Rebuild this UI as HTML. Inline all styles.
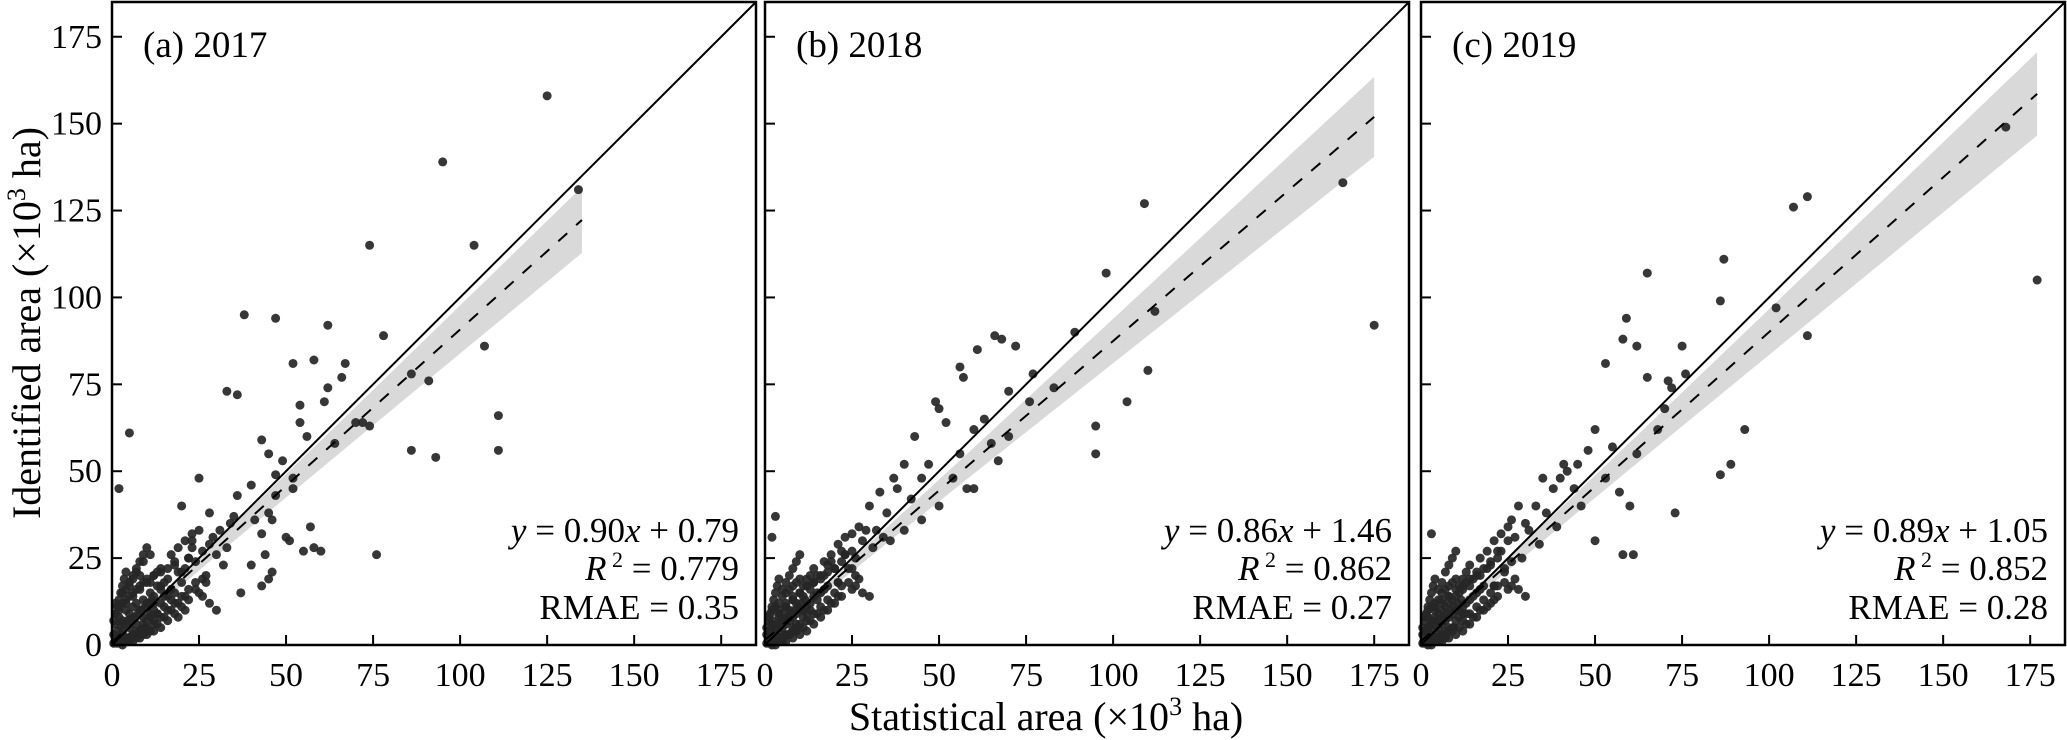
<!DOCTYPE html>
<html><head><meta charset="utf-8"><style>
html,body{margin:0;padding:0;background:#fff;}
svg{display:block;font-family:"Liberation Serif","DejaVu Serif",serif;}
</style></head><body>
<svg id="chart" width="2067" height="740" viewBox="0 0 2067 740" xmlns="http://www.w3.org/2000/svg">
<text x="0" y="0" transform="translate(40,323) rotate(-90)" text-anchor="middle" font-size="40">Identified area (×10<tspan font-size="26" dy="-15">3</tspan><tspan dy="15"> ha)</tspan></text>
<text x="1046" y="730" text-anchor="middle" font-size="40">Statistical area (×10<tspan font-size="26" dy="-15">3</tspan><tspan dy="15"> ha)</tspan></text>
</svg>
<script>
const ticks = [0,25,50,75,100,125,150,175];
const panelLabels = ["(a) 2017","(b) 2018","(c) 2019"];
const slopes = [0.90,0.86,0.89];
const intercepts = [0.79,1.46,1.05];
const r2Values = ["0.779","0.862","0.852"];
const rmaeValues = ["0.35","0.27","0.28"];
const fitEnd = [135,175,177];
const bandEndHalf = [9.5,11.5,12];

const ax_a = [125,95,74,104,134,38,47,62,52,78,86,91,107,111,111,93,86,76,5,2,33,36,61,60,64,70,72,74,62,66,67,58,54,56,54,52,52,45,43,47,47,49,40,36,46,45,41,35,25,20,28,43,50,57,51,58,44,40,46,55,45,43,37,28,30,33,32,26,24,21,20,17,15,12,31,34,29,23,27,22,19,26,18,14];
const ay_a = [158,139,115,115,131,95,94,92,81,89,78,76,86,66,56,54,56,26,61,45,73,72,70,27,58,64,64,63,74,77,81,82,64,60,69,48,45,55,59,49,43,53,46,43,36,38,36,37,48,40,38,32,31,34,30,28,26,23,21,27,19,17,15,29,26,28,23,27,24,22,18,16,14,12,33,35,31,30,20,25,21,19,24,17];
const ax_b = [166,175,109,98,112,89,110,104,95,95,83,77,76,66,68,72,70,61,56,57,52,50,49,43,47,56,60,63,65,67,60,58,54,45,40,37,38,33,30,32,36,40,28,25,25,22,20,17,15,3,2,45,50,70,35,42,27,31,23,19,26,29,34,21,18];
const ay_b = [133,92,127,107,96,90,79,70,63,55,74,78,70,89,88,86,73,85,80,77,64,68,70,60,52,55,62,65,58,53,45,45,48,48,52,48,45,44,40,33,30,33,30,27,22,27,22,20,15,37,31,36,40,60,38,42,34,28,26,24,20,33,31,18,23];
const ax_c = [168,177,107,111,111,102,87,86,93,89,86,73,65,59,53,58,62,65,71,75,72,76,70,68,62,55,50,48,45,53,57,60,46,50,58,61,40,38,35,33,30,28,26,25,22,20,17,3,41,42,36,31,27,24,29,34,21,19,44,39];
const ay_c = [149,105,126,129,89,97,111,99,62,52,49,38,107,94,81,88,86,77,76,86,74,78,68,62,55,57,62,56,52,48,44,40,40,30,26,26,48,45,48,40,35,40,36,30,27,24,20,32,52,50,38,33,31,21,25,29,17,22,45,34];

const cx_a = [1,2,3,4,5,6,7,8,9,10,11,12,13,14,15,16,17,18,1,2,3,4,5,6,7,8,9,10,11,12,13,14,15,16,2,3,4,5,6,7,8,9,10,11,12,13,4,6,8,10,12,14,16,18,20,22,3,5,7,9,11,13,15,17,19,21,2,4,6,8,1,3,5,7,9,11,24,23,19,21];
const cy_a = [2,1,4,2,5,3,6,4,8,7,9,10,9,12,11,14,13,15,6,8,7,10,9,11,12,10,13,12,15,14,17,16,18,19,1,3,1,2,2,4,3,6,5,8,7,9,12,14,16,18,20,21,22,23,21,25,0,1,2,3,4,6,8,10,12,14,11,16,19,20,12,15,17,21,24,26,18,28,8,10];
const cx_b = [1,2,3,4,5,6,7,8,9,10,11,12,13,14,15,16,17,18,1,2,3,4,5,6,7,8,9,10,11,12,13,14,15,16,2,3,4,5,6,7,8,9,10,11,12,13,4,6,8,10,12,14,16,18,20,22,3,5,7,9,11,13,15,17,19,21,2,4,6,8,24,23,21,26];
const cy_b = [1,2,3,4,5,6,7,8,9,10,10,11,12,14,13,15,16,17,4,6,5,8,9,11,10,13,12,15,14,17,16,18,20,19,0,1,2,2,3,3,5,6,6,8,9,10,10,12,14,15,17,18,20,21,22,24,0,1,3,4,5,7,9,10,12,14,7,9,11,13,22,26,18,25];
const cx_c = [1,2,3,4,5,6,7,8,9,10,11,12,13,14,15,16,17,18,1,2,3,4,5,6,7,8,9,10,11,12,13,14,15,16,2,3,4,5,6,7,8,9,10,11,12,13,4,6,8,10,12,14,16,18,20,22,3,5,7,9,11,13,15,17,19,21,2,4,6,8,24,23,21,26];
const cy_c = [1,2,3,4,5,6,7,8,9,10,10,11,12,13,14,15,16,17,4,5,7,8,9,10,11,12,13,14,15,16,18,17,19,21,0,1,2,2,3,4,5,5,7,8,9,9,11,13,14,16,17,19,20,22,23,25,0,1,2,4,5,6,8,10,11,13,8,10,12,14,22,27,17,24];

// extra dense-cluster readings (shared shape of the origin blob)
const dx_a = [0.5,1.5,2.5,3.5,4.5,5.5,6.5,7.5,8.5,9.5,0.5,1.5,2.5,3.5,4.5,5.5,6.5,7.5,8.5,9.5,10.5,11.5,1,2,3,4,5,6,7,8,9,10,11,12,13,14,0.5,1,1.5,2,2.5,3,3.5,4,5,6,7,8,9,10,12,14,16,18,20,22,24,26,28,30,6,8,10,12,14,16,18,20,22,25,27,17,19,21,23,25];
const dy_a = [0.5,0.5,1.5,1,2,2.5,3,3.5,4.5,5,3,4,5.5,6,7,7.5,8,9,10,11,12,13,9,10,12,13,14,15,16,17,18,19,18,20,21,22,7,9,11,13,15,17,19,21,18,20,22,24,26,28,6,8,10,12,14,16,16,14,12,10,1,2,3,4,5,7,9,11,13,15,18,26,28,30,32,33];
const dx_b = [0.5,1.5,2.5,3.5,4.5,5.5,6.5,7.5,8.5,9.5,0.5,1.5,2.5,3.5,4.5,5.5,6.5,7.5,8.5,9.5,10.5,11.5,1,2,3,4,5,6,7,8,9,10,11,12,13,14,0.5,1,1.5,2,2.5,3,3.5,4,5,6,7,8,9,10,12,14,16,18,20,22,24,26,28,30,6,8,10,12,14,16,18,20,22,25,27,17,19,21,23,25];
const dy_b = [0.5,0.5,1.5,1,2,2.5,3,3.5,4.5,5,3,4,5.5,6,7,7.5,8,9,10,11,12,13,8,10,11,12,14,15,16,17,18,19,17,19,20,22,5,7,9,11,13,15,17,19,16,18,20,22,24,26,7,9,11,13,15,17,18,17,15,14,1,2,3,4,6,8,10,12,14,16,19,24,26,29,31,32];
const dx_c = [0.5,1.5,2.5,3.5,4.5,5.5,6.5,7.5,8.5,9.5,0.5,1.5,2.5,3.5,4.5,5.5,6.5,7.5,8.5,9.5,10.5,11.5,1,2,3,4,5,6,7,8,9,10,11,12,13,14,0.5,1,1.5,2,2.5,3,3.5,4,5,6,7,8,9,10,12,14,16,18,20,22,24,26,28,30,6,8,10,12,14,16,18,20,22,25,27,17,19,21,23,25];
const dy_c = [0.5,0.5,1.5,1,2,2.5,3,3.5,4.5,5,3,4,5.5,6,7,7.5,8,9,10,11,12,13,8,10,11,12,13,15,16,17,18,19,17,19,21,23,5,7,9,11,13,15,17,19,16,18,21,23,25,27,7,9,11,13,15,17,18,17,16,14,1,2,3,4,6,8,10,12,14,16,19,25,27,30,32,34];

const panelsX = [ax_a.concat(cx_a,dx_a), ax_b.concat(cx_b,dx_b), ax_c.concat(cx_c,dx_c)];
const panelsY = [ay_a.concat(cy_a,dy_a), ay_b.concat(cy_b,dy_b), ay_c.concat(cy_c,dy_c)];

const NS = "http://www.w3.org/2000/svg";
const svg = document.getElementById("chart");
const LEFTS = [112,765,1421];
const W = 644, ZERO_Y = 645, TOP = 2, MAXV = 185;
function mk(tag, attrs, parent){const e=document.createElementNS(NS,tag);for(const k in attrs)e.setAttribute(k,attrs[k]);(parent||svg).appendChild(e);return e;}

for(let p=0;p<3;p++){
  const L = LEFTS[p];
  const sx = v => L + v/MAXV*W;
  const sy = v => ZERO_Y - v/MAXV*(ZERO_Y-TOP);
  const g = mk("g",{});
  
  
  const a=slopes[p], b=intercepts[p], xe=fitEnd[p], he=bandEndHalf[p];
  const xm=10, h0=1.5, k=Math.sqrt(he*he-h0*h0)/(xe-xm);
  const up=[], lo=[];
  for(let i=0;i<=60;i++){const x=xe*i/60;const h=Math.sqrt(h0*h0+k*k*(x-xm)*(x-xm));up.push(sx(x)+","+sy(a*x+b+h));lo.push(sx(x)+","+sy(a*x+b-h));}
  const band = mk("polygon",{points:up.concat(lo.reverse()).join(" "),fill:"#d9d9d9",stroke:"none"},g);
  
  
  const xs=panelsX[p], ys=panelsY[p];
  for(let i=0;i<xs.length;i++){
    const c = mk("circle",{cx:sx(xs[i]),cy:sy(ys[i]),r:4.5,fill:"#262626","fill-opacity":0.92},g);
    
    
  }
  const one = mk("line",{x1:sx(0),y1:sy(0),x2:sx(MAXV),y2:sy(MAXV),stroke:"#000","stroke-width":2},g);
  
  
  const fit = mk("line",{x1:sx(0),y1:sy(b),x2:sx(xe),y2:sy(a*xe+b),stroke:"#000","stroke-width":2,"stroke-dasharray":"12,12"},g);
  
  
  const fr = mk("rect",{x:L,y:TOP,width:W,height:ZERO_Y-TOP,fill:"none",stroke:"#000","stroke-width":2.5},g);
  
  
  for(const t of ticks){
    const tx = mk("line",{x1:sx(t),y1:ZERO_Y,x2:sx(t),y2:ZERO_Y-10,stroke:"#000","stroke-width":2},g);
    
    
    const lx = mk("text",{x:sx(t),y:686,"text-anchor":"middle","font-size":34},g);
    lx.textContent = t;
    
    
    const ty = mk("line",{x1:L,y1:sy(t),x2:L+10,y2:sy(t),stroke:"#000","stroke-width":2},g);
    
    
    if(p===0){
      const ly = mk("text",{x:L-10,y:sy(t)+11,"text-anchor":"end","font-size":34},g);
      ly.textContent = t;
      
      
    }
  }
  const pl = mk("text",{x:L+31,y:57,"font-size":37},g);
  pl.textContent = panelLabels[p];
  
  
  const R = L+627;
  const eq = mk("text",{x:R,y:542,"text-anchor":"end","font-size":35},g);
  eq.innerHTML = '<tspan font-style="italic">y</tspan> = '+slopes[p].toFixed(2)+'<tspan font-style="italic">x</tspan> + '+intercepts[p].toFixed(2);
  
  
  const r2 = mk("text",{x:R,y:580,"text-anchor":"end","font-size":35},g);
  r2.innerHTML = '<tspan font-style="italic">R</tspan><tspan font-size="22" dy="-13"> 2</tspan><tspan dy="13"> = '+r2Values[p]+'</tspan>';
  
  
  const rm = mk("text",{x:R,y:619,"text-anchor":"end","font-size":35},g);
  rm.textContent = "RMAE = "+rmaeValues[p];
  
  
}
</script>
</body></html>
